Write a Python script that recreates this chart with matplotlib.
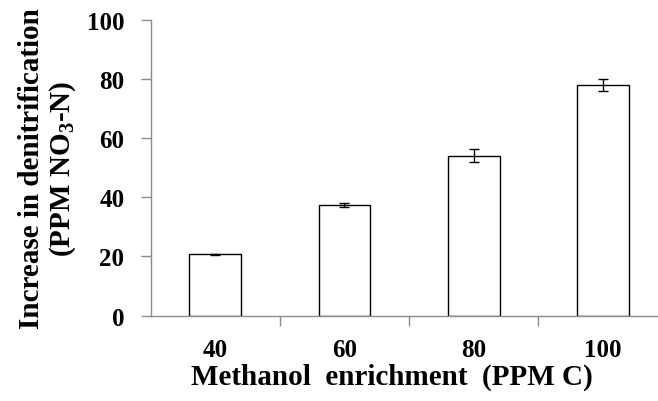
import matplotlib
matplotlib.use("Agg")
import matplotlib.pyplot as plt
import numpy as np

# data
categories = ["40", "60", "80", "100"]
increase = [20.7, 37.5, 54.0, 77.8]
errors = [0.3, 0.7, 2.2, 2.0]

plt.rcParams["font.family"] = ["Liberation Serif", "DejaVu Serif"]
plt.rcParams["font.weight"] = "bold"
plt.rcParams["mathtext.fontset"] = "custom"
plt.rcParams["mathtext.rm"] = "Liberation Serif:bold"
plt.rcParams["mathtext.bf"] = "Liberation Serif:bold"

fig = plt.figure(figsize=(6.58, 4.02), dpi=100)
ax = fig.add_axes([0.229, 0.2122, 0.7854, 0.7363])

x = np.arange(len(categories))
ax.bar(x, increase, width=0.4, color="white", edgecolor="black", linewidth=1.0, zorder=2)
ax.errorbar(x, increase, yerr=errors, fmt="none", ecolor="black", elinewidth=1.0,
            capsize=3.5, capthick=1.0, zorder=3)

ax.set_xlim(-0.5, len(categories) - 0.5)
ax.set_ylim(0, 100)
ax.set_yticks(np.arange(0, 101, 20))
ax.set_xticks(x)
ax.set_xticklabels(categories, fontsize=18, fontweight="bold")
ax.set_xticks(np.arange(0.5, len(categories) - 0.5, 1), minor=True)
ax.tick_params(axis="x", which="major", length=0, pad=16)
ax.tick_params(axis="x", which="minor", length=7, color="#8c8c8c", width=1.0)
ax.tick_params(axis="y", length=7, color="#8c8c8c", width=1.0, labelsize=18, pad=12)
for lab in ax.get_yticklabels():
    lab.set_fontweight("bold")

for side in ["top", "right"]:
    ax.spines[side].set_visible(False)
for side in ["left", "bottom"]:
    ax.spines[side].set_color("#8c8c8c")
    ax.spines[side].set_linewidth(1.0)

ax.set_xlabel("Methanol  enrichment  (PPM C)", fontsize=21, fontweight="bold")
ax.xaxis.set_label_coords(0.467, -0.16)
ax.set_ylabel("Increase in denitrification\n(PPM NO$_3$-N)", fontsize=21,
              fontweight="bold", linespacing=1.1)
ax.yaxis.set_label_coords(-0.14, 0.5)

fig.savefig("out.png", dpi=100)
